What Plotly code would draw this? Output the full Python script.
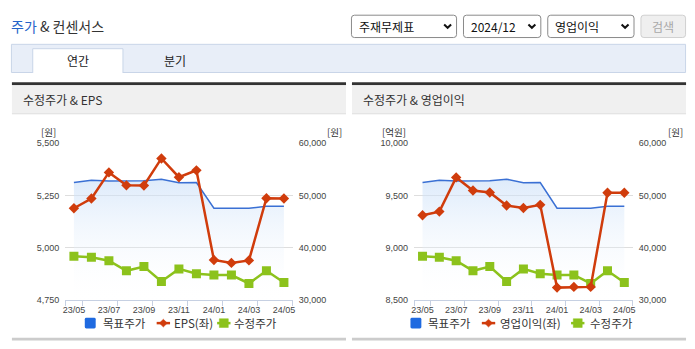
import plotly.graph_objects as go

W, H = 695, 349

# ---------------- data ----------------
months = ["23/05", "23/06", "23/07", "23/08", "23/09", "23/10", "23/11",
          "23/12", "24/01", "24/02", "24/03", "24/04", "24/05"]
target_price = [52470, 52920, 52730, 52790, 52790, 53110, 52420,
                52470, 47520, 47520, 47520, 47890, 47890]          # 목표주가 (원)
adj_price = [38310, 38130, 37450, 35520, 36340, 33470, 35890,
             34960, 34720, 34720, 33100, 35520, 33280]             # 수정주가 (원)
eps = [5188, 5235, 5360, 5298, 5297, 5427, 5337,
       5370, 4940, 4926, 4938, 5236, 5235]                         # EPS (원)
op_income = [9309, 9344, 9672, 9546, 9528, 9403, 9378,
             9409, 8615, 8622, 8622, 9525, 9525]                   # 영업이익 (억원)

price_ticks = [30000, 40000, 50000, 60000]
eps_ticks = [4750, 5000, 5250, 5500]
op_ticks = [8500, 9000, 9500, 10000]

# ---------------- styling ----------------
BLUE = "#3a70d4"
BLUE_LEG = "#1f6ae0"
RED = "#d03c0c"
GREEN = "#8cc21c"
GRID = "#dedede"
AXIS = "#c6d0e2"
KFONT = "Noto Sans CJK KR, Noto Sans, sans-serif"
NFONT = "Liberation Sans, Arial, sans-serif"


def X(p):
    return p / W


def Y(p):
    return 1 - p / H


xi = list(range(len(months)))
bounds = [-0.5] + [i + 0.5 for i in xi[::2]]

PLOT_TOP, PLOT_BOT = 142.3, 303.3

fig = go.Figure()


def add_panel(xa, ya_price, ya_left, left_vals):
    fig.add_trace(go.Scatter(
        x=xi, y=target_price, xaxis=xa, yaxis=ya_price, mode="lines",
        line=dict(color=BLUE, width=1.5), fill="tozeroy",
        fillgradient=dict(type="vertical",
                          colorscale=[[0, "rgba(255,255,255,0)"],
                                      [1, "rgba(200,222,248,0.6)"]],
                          start=30000, stop=max(target_price)),
        name="목표주가", showlegend=False, hoverinfo="skip"))
    fig.add_trace(go.Scatter(
        x=xi, y=adj_price, xaxis=xa, yaxis=ya_price, mode="lines+markers",
        line=dict(color=GREEN, width=2.5),
        marker=dict(symbol="square", size=9, color=GREEN),
        name="수정주가", showlegend=False, hoverinfo="skip"))
    fig.add_trace(go.Scatter(
        x=xi, y=left_vals, xaxis=xa, yaxis=ya_left, mode="lines+markers",
        line=dict(color=RED, width=2.5),
        marker=dict(symbol="diamond", size=8, color=RED),
        name="left", showlegend=False, hoverinfo="skip"))


add_panel("x", "y", "y2", eps)
add_panel("x2", "y3", "y4", op_income)

tickfont = dict(family=NFONT, size=9, color="#444")


def xaxis_cfg(x0, x1):
    return dict(domain=[X(x0), X(x1)], range=[-0.5, 12.5], tickmode="array",
                tickvals=xi[::2], ticktext=months[::2], showline=True,
                linecolor=AXIS, linewidth=1, ticks="", showgrid=False,
                zeroline=False, tickfont=tickfont, fixedrange=True,
                ticklabelstandoff=2,
                minor=dict(tickmode="array", tickvals=bounds, ticks="outside",
                           ticklen=5, tickcolor=AXIS, showgrid=False))


def price_axis(anchor):
    return dict(domain=[Y(PLOT_BOT), Y(PLOT_TOP)], range=[30000, 60000],
                tickmode="array", tickvals=price_ticks, tickformat=",",
                side="right", anchor=anchor, showgrid=True, gridcolor=GRID,
                zeroline=False, showline=False, ticks="", tickfont=tickfont,
                fixedrange=True, ticklabelstandoff=5)


def left_axis(anchor, over, rng, tv):
    return dict(domain=[Y(PLOT_BOT), Y(PLOT_TOP)], range=rng,
                tickmode="array", tickvals=tv, tickformat=",", side="left",
                anchor=anchor, overlaying=over, showgrid=False,
                zeroline=False, showline=False, ticks="", tickfont=tickfont,
                fixedrange=True, ticklabelstandoff=5)


fig.update_layout(
    width=W, height=H, margin=dict(l=0, r=0, t=0, b=0),
    paper_bgcolor="white", plot_bgcolor="rgba(0,0,0,0)",
    hovermode=False, showlegend=False,
    xaxis=xaxis_cfg(62.7, 292.2),
    yaxis=price_axis("x"),
    yaxis2=left_axis("x", "y", [4750, 5500], eps_ticks),
    xaxis2=xaxis_cfg(414.7, 635.2),
    yaxis3=price_axis("x2"),
    yaxis4=left_axis("x2", "y3", [8500, 10000], op_ticks),
)

shapes = []
annots = []


def rect(x0, y0, x1, y1, fill, line=None, lw=0):
    shapes.append(dict(type="rect", xref="paper", yref="paper",
                       x0=X(x0), x1=X(x1), y0=Y(y1), y1=Y(y0),
                       fillcolor=fill, line=dict(color=line or fill, width=lw),
                       layer="below"))


def rrect(x0, y0, x1, y1, r, fill, line, lw=1):
    pts = (f"M {X(x0+r)},{Y(y0)} L {X(x1-r)},{Y(y0)} Q {X(x1)},{Y(y0)} {X(x1)},{Y(y0+r)} "
           f"L {X(x1)},{Y(y1-r)} Q {X(x1)},{Y(y1)} {X(x1-r)},{Y(y1)} "
           f"L {X(x0+r)},{Y(y1)} Q {X(x0)},{Y(y1)} {X(x0)},{Y(y1-r)} "
           f"L {X(x0)},{Y(y0+r)} Q {X(x0)},{Y(y0)} {X(x0+r)},{Y(y0)} Z")
    shapes.append(dict(type="path", xref="paper", yref="paper", path=pts,
                       fillcolor=fill, line=dict(color=line, width=lw), layer="below"))


def poly(pts, color, width, fill=None, close=False):
    d = "M " + " L ".join(f"{X(a)},{Y(b)}" for a, b in pts) + (" Z" if close else "")
    shapes.append(dict(type="path", xref="paper", yref="paper", path=d,
                       fillcolor=fill, line=dict(color=color, width=width), layer="above"))


def text(x, y, s, size=12, color="#333", xanchor="left", family=KFONT):
    annots.append(dict(xref="paper", yref="paper", x=X(x), y=Y(y), text=s,
                       showarrow=False, xanchor=xanchor, yanchor="middle",
                       borderpad=0,
                       font=dict(family=family, size=size, color=color)))


# ---- header ----
text(7, 22, "<span style='color:#2563c9'>주가</span> & 컨센서스", size=14, color="#333")

dropdowns = [(351.5, 457.5, "주재무제표", 358), (464.5, 542.5, "2024/12", 471),
             (549.5, 636.5, "영업이익", 556)]
for x0, x1, label, tx in dropdowns:
    rrect(x0, 10.5, x1, 33.5, 3, "white", "#8a8a8a", 1)
    text(tx, 22, label, size=12, color="#111")
    cx = x1 - 9
    poly([(cx - 3.5, 20), (cx, 23.5), (cx + 3.5, 20)], "#111", 2)
rrect(643.5, 10.5, 688.5, 33.5, 3, "#efefef", "#d0d0d0", 1)
text(666, 22, "검색", size=12, color="#a8a8a8", xanchor="center")

# tab bar
rect(8.5, 40.5, 688.5, 69.5, "#e8eef8", "#c9d5e8", 1)
rect(30, 45, 121, 70, "white")
poly([(30, 70), (30, 45), (121, 45), (121, 70)], "#c9d5e8", 1)
text(75.5, 57.5, "연간", size=12, color="#222", xanchor="center")
text(174, 57.5, "분기", size=12, color="#222", xanchor="center")

# ---- panels ----
for x0, x1, title in [(9, 346, "수정주가 & EPS"), (352, 689, "수정주가 & 영업이익")]:
    rect(x0, 79.5, x1, 82.5, "#333333")
    rect(x0, 82.5, x1, 111.5, "#f0f0f0")
    rect(x0, 111.5, x1, 112.5, "#dcdcdc")
    rect(x0, 342.5, x1, 345.5, "#cccccc")
    text(x0 + 10, 97, title, size=12, color="#333")

# unit labels
text(45.5, 130.5, "[원]", size=9.5, color="#333", xanchor="center")
text(334, 130.5, "[원]", size=9.5, color="#333", xanchor="center")
text(394, 130.5, "[억원]", size=9.5, color="#333", xanchor="center")
text(678, 130.5, "[원]", size=9.5, color="#333", xanchor="center")


# ---- legends ----
def legend(bx, rx, gx, t1x, t2x, t3x, left_label):
    ly = 327.5
    rrect(bx, ly - 5.5, bx + 11, ly + 5.5, 1.5, BLUE_LEG, BLUE_LEG, 0)
    text(t1x, ly, "목표주가", size=11.5, color="#333")
    poly([(rx, ly), (rx + 13.5, ly)], RED, 2.5)
    c = rx + 6.75
    poly([(c, ly - 4), (c + 4, ly), (c, ly + 4), (c - 4, ly)], RED, 0.5, fill=RED, close=True)
    text(t2x, ly, left_label, size=11.5, color="#333")
    poly([(gx, ly), (gx + 13.5, ly)], GREEN, 2.5)
    c = gx + 6.75
    poly([(c - 4.5, ly - 4.5), (c + 4.5, ly - 4.5), (c + 4.5, ly + 4.5), (c - 4.5, ly + 4.5)],
         GREEN, 0.5, fill=GREEN, close=True)
    text(t3x, ly, "수정주가", size=11.5, color="#333")


legend(82.5, 155, 216, 100, 171, 232, "EPS(좌)")
legend(411, 483, 573, 427.5, 500, 591, "영업이익(좌)")

fig.update_layout(shapes=shapes, annotations=annots)

fig.write_html("out.html", config={"displayModeBar": False, "staticPlot": True})
